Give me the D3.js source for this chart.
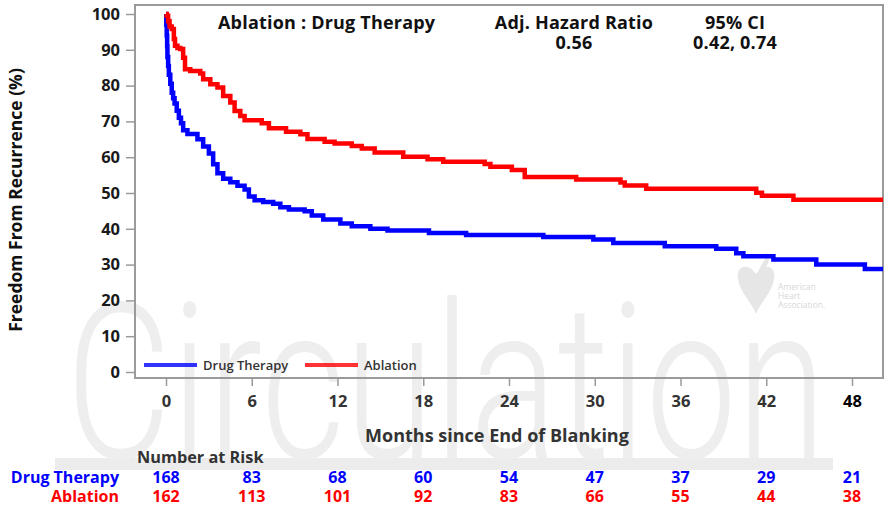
<!DOCTYPE html>
<html>
<head>
<meta charset="utf-8">
<script src="https://cdnjs.cloudflare.com/ajax/libs/d3/7.8.5/d3.min.js"></script>
<style>
  body { margin: 0; background: #fff; }
  svg text { font-family: "Open Sans", "Liberation Sans", sans-serif; }
</style>
</head>
<body>
<svg id="chart" width="893" height="513"></svg>
<script>
// Kaplan-Meier curves (months since end of blanking, % free)
var drugMonths = [0, 0.02, 0.05, 0.08, 0.1, 0.15, 0.2, 0.3, 0.4, 0.5, 0.6, 0.75, 0.9, 1.05, 1.2, 1.5,
  2.2, 2.6, 3.0, 3.3, 3.6, 4.0, 4.5, 5.0, 5.5, 5.8, 6.2, 6.8, 7.5, 8.0, 8.6, 9.7, 10.2, 11.0,
  12.2, 13.0, 14.3, 15.5, 18.4, 21.0, 26.4, 29.9, 31.3, 34.9, 38.5, 39.9, 40.4, 42.5, 45.5, 48.9];
var drugValues = [100, 97, 94, 91, 88, 85.5, 83, 80.5, 78, 76.5, 75, 73, 71, 69.5, 67.5, 66.5,
  65, 63, 61, 58, 55.5, 54, 53, 52, 51, 49, 48, 47.5, 47, 46, 45.4, 44.9, 43.7, 42.6,
  41.5, 40.7, 40.0, 39.5, 38.8, 38.3, 37.7, 37.0, 36.0, 35.1, 34.4, 33.2, 32.3, 31.4, 30.0, 28.8];

var ablationMonths = [0, 0.05, 0.15, 0.25, 0.4, 0.55, 0.63, 0.8, 1.0, 1.2, 1.33, 1.7, 2.4, 2.6,
  3.1, 3.6, 4.0, 4.5, 4.8, 5.2, 5.5, 6.7, 7.2, 8.4, 9.4, 9.9, 11.1, 11.8, 13.0, 13.7, 14.6,
  16.6, 18.3, 19.4, 22.3, 22.7, 24.2, 25.1, 28.7, 31.8, 32.1, 33.6, 41.3, 41.7, 43.9];
var ablationValues = [100, 99.5, 98, 96.5, 95.8, 93, 91.1, 90.5, 90.2, 87.8, 84.6, 84.1, 83.4, 81.8,
  80.4, 79.5, 77.1, 75.3, 72.9, 71.5, 70.3, 69.5, 68.1, 67.1, 66.4, 65.1, 64.3, 63.8, 63.1, 62.4, 61.3,
  60.1, 59.4, 58.7, 58.1, 57.3, 56.4, 54.5, 53.8, 52.9, 52.1, 51.2, 50.1, 49.2, 48.1];

var xTicks = [0, 6, 12, 18, 24, 30, 36, 42, 48];
var yTicks = [0, 10, 20, 30, 40, 50, 60, 70, 80, 90, 100];
var riskDrug = [168, 83, 68, 60, 54, 47, 37, 29, 21];
var riskAblation = [162, 113, 101, 92, 83, 66, 55, 44, 38];
var seriesNames = ["Drug Therapy", "Ablation"];
var seriesColors = ["#0000ff", "#ff0000"];

var svg = d3.select("#chart");
var box = {left: 135, top: 5, right: 883, bottom: 378};

var x = d3.scaleLinear().domain([0, 48]).range([166, 852]);
var y = d3.scaleLinear().domain([0, 100]).range([372, 14]);
var xEnd = x.invert(box.right);

// journal watermark
var wm = svg.append("g").attr("class", "watermark");
wm.append("rect").attr("x", 55).attr("y", 458).attr("width", 778).attr("height", 12).attr("fill", "#ececec");
wm.append("text")
  .attr("x", 66).attr("y", 458)
  .attr("textLength", 760).attr("lengthAdjust", "spacingAndGlyphs")
  .style("font-family", "Roboto, 'Open Sans', sans-serif")
  .style("font-weight", 300)
  .style("font-size", "218px")
  .attr("fill", "#eeeeee")
  .text("Circulation");

var aha = svg.append("g").attr("transform", "translate(738,252)");
aha.append("path")
  .attr("d", "M18,22 C8,8 -6,16 2,34 C6,44 14,52 18,62 C22,52 30,44 34,34 C42,16 28,8 18,22 Z")
  .attr("fill", "#e6e6e6");
aha.append("path")
  .attr("d", "M20,20 C24,10 30,6 28,0 C34,6 30,14 24,20 Z")
  .attr("fill", "#e6e6e6");
["American", "Heart", "Association."].forEach(function(t, i) {
  aha.append("text").attr("x", 40).attr("y", 38 + i * 9)
    .style("font-size", "8.5px").attr("fill", "#d8d8d8").text(t);
});

// frame
svg.append("rect")
  .attr("x", box.left).attr("y", box.top)
  .attr("width", box.right - box.left).attr("height", box.bottom - box.top)
  .attr("fill", "none").attr("stroke", "#9a9a9a").attr("stroke-width", 2);

// y axis
var yAxis = svg.append("g")
  .attr("transform", "translate(" + box.left + ",0)")
  .call(d3.axisLeft(y).tickValues(yTicks).tickSize(9).tickPadding(6));
yAxis.select(".domain").remove();
yAxis.selectAll(".tick line").attr("stroke", "#9a9a9a").attr("stroke-width", 1.5);
yAxis.selectAll(".tick text")
  .style("font-size", "16.5px").style("font-weight", "bold")
  .style("font-family", "'Open Sans', sans-serif").attr("fill", "#1a1a1a");

// x axis
var xAxis = svg.append("g")
  .attr("transform", "translate(0," + box.bottom + ")")
  .call(d3.axisBottom(x).tickValues(xTicks).tickSize(8).tickPadding(9));
xAxis.select(".domain").remove();
xAxis.selectAll(".tick line").attr("stroke", "#9a9a9a").attr("stroke-width", 1.5);
xAxis.selectAll(".tick text")
  .style("font-size", "16.5px").style("font-weight", "bold")
  .style("font-family", "'Open Sans', sans-serif")
  .attr("fill", function(d) { return d === 48 ? "#000" : "#333"; });

svg.append("text")
  .attr("transform", "translate(22,200) rotate(-90)")
  .attr("text-anchor", "middle")
  .style("font-size", "17.5px").style("font-weight", "bold").attr("fill", "#111")
  .text("Freedom From Recurrence (%)");

svg.append("text")
  .attr("x", 497).attr("y", 442)
  .attr("text-anchor", "middle")
  .style("font-size", "18px").style("font-weight", "bold").attr("fill", "#333")
  .text("Months since End of Blanking");

// curves
var line = d3.line()
  .x(function(d) { return x(d[0]); })
  .y(function(d) { return y(d[1]); })
  .curve(d3.curveStepAfter);

function toPoints(months, values) {
  var pts = months.map(function(m, i) { return [m, values[i]]; });
  pts.push([xEnd, values[values.length - 1]]);
  return pts;
}

var curves = [toPoints(drugMonths, drugValues), toPoints(ablationMonths, ablationValues)];
curves.forEach(function(pts, i) {
  svg.append("path")
    .datum(pts)
    .attr("fill", "none")
    .attr("stroke", seriesColors[i])
    .attr("stroke-width", 4.5)
    .attr("stroke-linejoin", "miter")
    .attr("d", line);
});

// header
var header = svg.append("g")
  .style("font-size", "18px").style("font-weight", "bold").style("letter-spacing", "0.2px")
  .attr("fill", "#111");
header.append("text").attr("x", 218).attr("y", 29).text("Ablation : Drug Therapy");
header.append("text").attr("x", 574).attr("y", 29).attr("text-anchor", "middle").text("Adj. Hazard Ratio");
header.append("text").attr("x", 574).attr("y", 49).attr("text-anchor", "middle").text("0.56");
header.append("text").attr("x", 735).attr("y", 29).attr("text-anchor", "middle").text("95% CI");
header.append("text").attr("x", 735).attr("y", 49).attr("text-anchor", "middle").text("0.42, 0.74");

// legend
var legendX = [144, 305];
seriesNames.forEach(function(name, i) {
  var lg = svg.append("g").attr("transform", "translate(" + legendX[i] + ",365)");
  lg.append("line").attr("x1", 0).attr("x2", 53).attr("y1", 0).attr("y2", 0)
    .attr("stroke", seriesColors[i]).attr("stroke-width", 4).attr("stroke-opacity", 0.8);
  lg.append("text").attr("x", 59).attr("y", 5)
    .style("font-size", "13px").style("font-weight", 600).attr("fill", "#333")
    .text(name);
});

// number at risk table
svg.append("text")
  .attr("x", 137).attr("y", 463)
  .style("font-size", "16.3px").style("font-weight", "bold").attr("fill", "#333")
  .text("Number at Risk");

var riskRows = [riskDrug, riskAblation];
var rowY = [483, 502];
riskRows.forEach(function(row, r) {
  var g = svg.append("g").style("font-size", "16px").style("font-weight", "bold").attr("fill", seriesColors[r]);
  g.append("text").attr("x", 119).attr("y", rowY[r]).attr("text-anchor", "end").text(seriesNames[r]);
  g.selectAll("text.count")
    .data(row)
    .enter().append("text")
    .attr("class", "count")
    .attr("x", function(d, i) { return x(xTicks[i]); })
    .attr("y", rowY[r])
    .attr("text-anchor", "middle")
    .text(function(d) { return d; });
});
</script>
</body>
</html>
